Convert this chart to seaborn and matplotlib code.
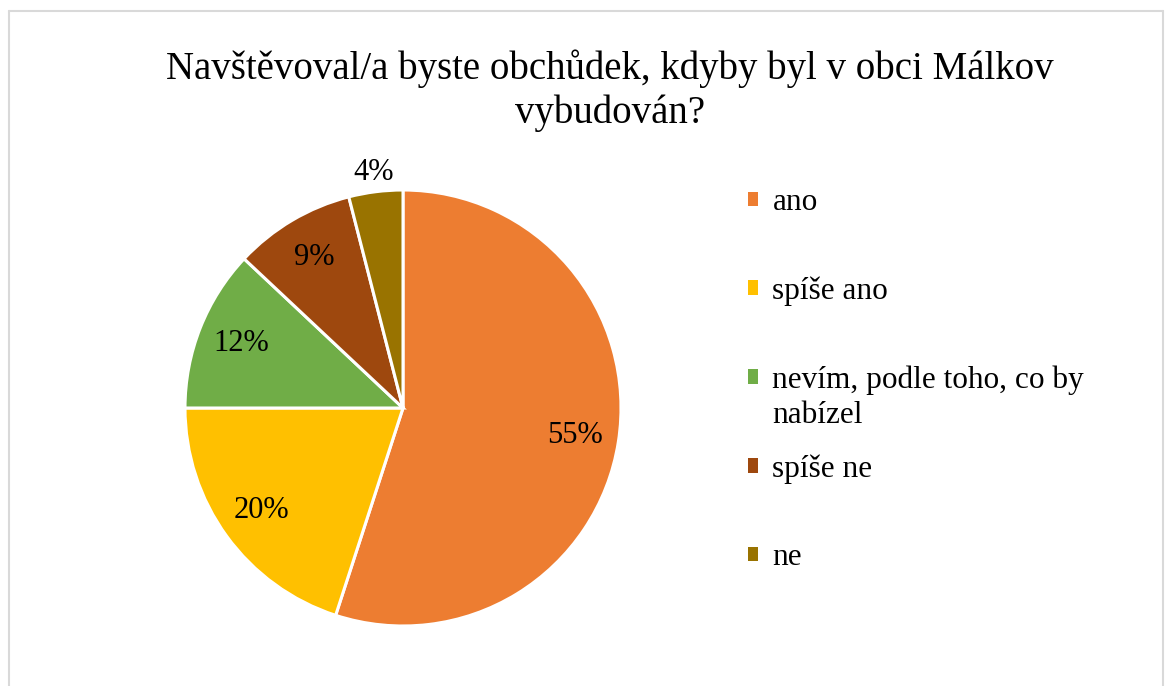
import matplotlib.pyplot as plt
import seaborn as sns
from matplotlib.lines import Line2D

categories = ["ano", "spíše ano", "nevím, podle toho, co by\nnabízel", "spíše ne", "ne"]
shares = [55, 20, 12, 9, 4]
colors = ["#ED7D31", "#FFC000", "#70AD47", "#9E480E", "#997300"]
title = "Navštěvoval/a byste obchůdek, kdyby byl v obci Málkov\nvybudován?"

sns.set_theme(style="white")
plt.rcParams["font.family"] = ["Liberation Serif", "DejaVu Serif"]
plt.rcParams["text.color"] = "black"

W, H = 1167, 686
fig = plt.figure(figsize=(W / 100, H / 100), dpi=100)

# chart frame (light grey border like the office export)
for xs, ys in [((9, 9), (H + 5, 11)), ((9, 1163), (11, 11)), ((1163, 1163), (11, H + 5))]:
    fig.add_artist(Line2D([x / W for x in xs], [1 - y / H for y in ys],
                          color="#D9D9D9", lw=1.5, transform=fig.transFigure))

cx, cy, r = 403, 408, 218
ax = fig.add_axes([(cx - r) / W, 1 - (cy + r) / H, 2 * r / W, 2 * r / H])

wedges, texts, autotexts = ax.pie(
    shares,
    colors=colors,
    startangle=90,
    counterclock=False,
    autopct=lambda p: f"{p:.0f}%",
    pctdistance=0.8,
    wedgeprops={"edgecolor": "white", "linewidth": 2.2},
    textprops={"fontsize": 22, "color": "black"},
)
ax.set_xlim(-1, 1)
ax.set_ylim(-1, 1)
ax.set_aspect("auto")

# small last slice gets its label outside, like Excel's best fit
x, y = autotexts[-1].get_position()
autotexts[-1].set_position((x / 0.8 * 1.09, y / 0.8 * 1.09))

fig.text(610 / W, 1 - 91 / H, title, ha="center", va="center",
         fontsize=28, linespacing=1.22)

# Excel gives every legend entry the same slot; extra lines overflow below
first_lines = [c.split("\n")[0] for c in categories]
leg = ax.legend(
    wedges, first_lines,
    loc="upper left",
    bbox_to_anchor=(748 / W, 1 - 188 / H),
    bbox_transform=fig.transFigure,
    frameon=False,
    fontsize=22.5,
    handlelength=0.33,
    handleheight=0.33,
    handletextpad=0.45,
    labelspacing=1.9,
    borderpad=0,
    borderaxespad=0,
)
for h in leg.legend_handles:
    h.set_edgecolor("none")
for cat, txt in zip(categories, leg.get_texts()):
    rest = cat.split("\n")[1:]
    if rest:
        ax.annotate("\n".join(rest), xy=(0, 0), xycoords=txt,
                    xytext=(0, -20), textcoords="offset points",
                    ha="left", va="baseline", fontsize=22.5, zorder=10)

fig.canvas.draw()
fig.savefig("out.png", dpi=100)
